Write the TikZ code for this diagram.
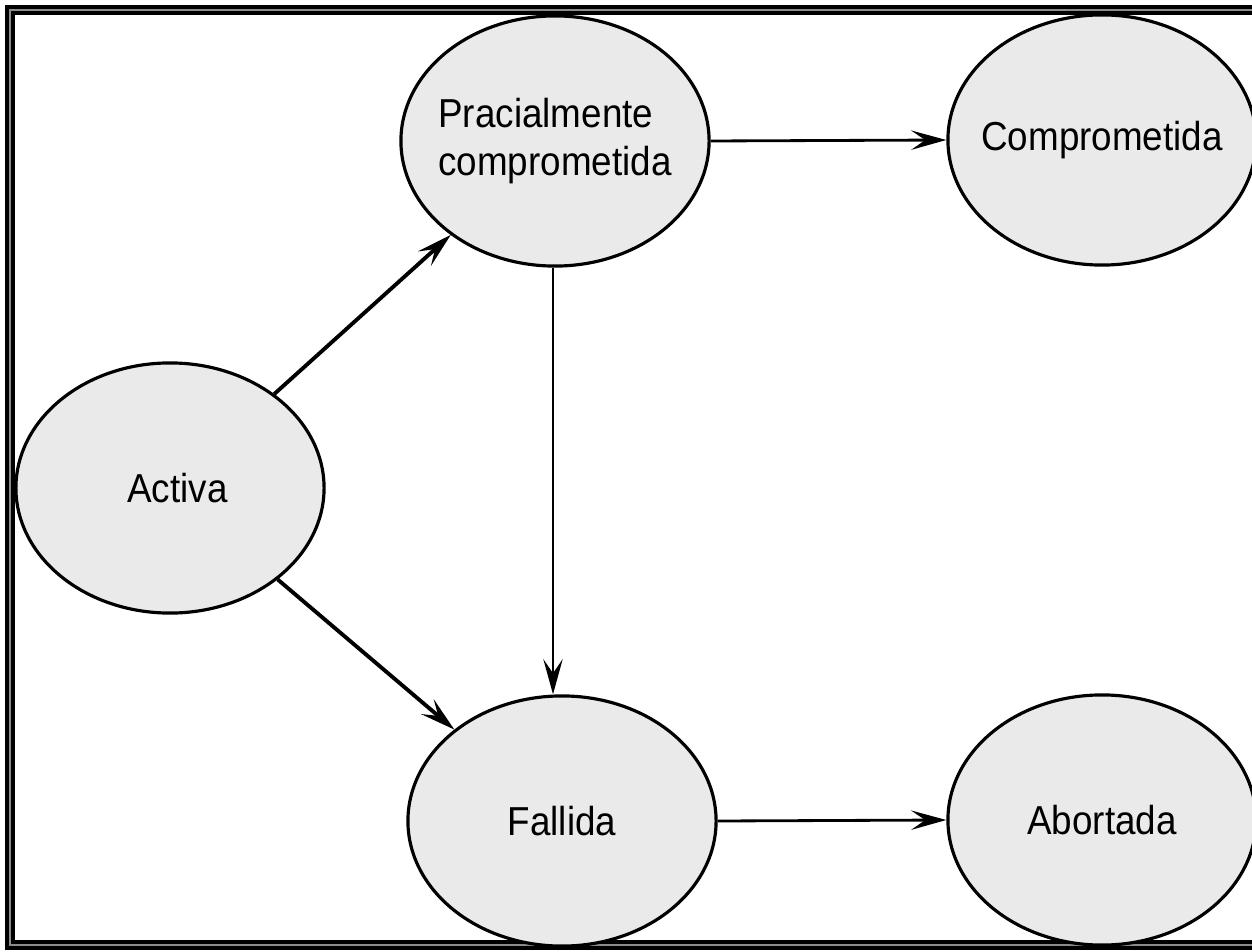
\documentclass[tikz,border=0pt]{standalone}
\usepackage{fontspec}
\setmainfont{Liberation Sans}[FakeStretch=0.91]
\usetikzlibrary{shapes.geometric,arrows.meta}
\definecolor{estadogris}{RGB}{234,234,234}
\definecolor{marcogris}{RGB}{140,140,140}

\begin{document}
\begin{tikzpicture}[x=0.01cm,y=-0.01cm]
  \tikzstyle{estado}=[ellipse,draw=black,line width=0.9pt,fill=estadogris,
    minimum width=3.08cm,minimum height=2.5cm,inner sep=-30pt,align=left,
    font=\fontsize{11.5}{13.4}\selectfont]
  \tikzstyle{paso}=[draw=black,line width=0.8pt,-{Stealth[length=10pt,width=5.5pt,inset=4pt]}]
  \tikzstyle{pasogrueso}=[paso,line width=1.1pt]
  \useasboundingbox (0,0) rectangle (1252,952);
  \draw [line width=1.1pt,double=marcogris,double distance=0.7pt] (1260,10) -| (10,945) -- (1260,945);
  \node [estado] (activa) at (170,488) {\hspace*{0.15cm}Activa};
  \node [estado] (parcial) at (555,141) {Pracialmente\\comprometida};
  \node [estado] (comprometida) at (1102,140) {Comprometida};
  \node [estado] (fallida) at (562,821) {Fallida};
  \node [estado] (abortada) at (1102,820) {Abortada};
  \draw [pasogrueso] (activa) -- (parcial);
  \draw [pasogrueso] (activa) -- (fallida);
  \draw [paso] (parcial.east) -- (comprometida.west);
  \draw [paso] ([xshift=-0.02cm]parcial.south) -- ([xshift=-0.02cm]parcial.south |- fallida.north);
  \draw [paso] (fallida.east) -- (abortada.west);
\end{tikzpicture}
\end{document}
